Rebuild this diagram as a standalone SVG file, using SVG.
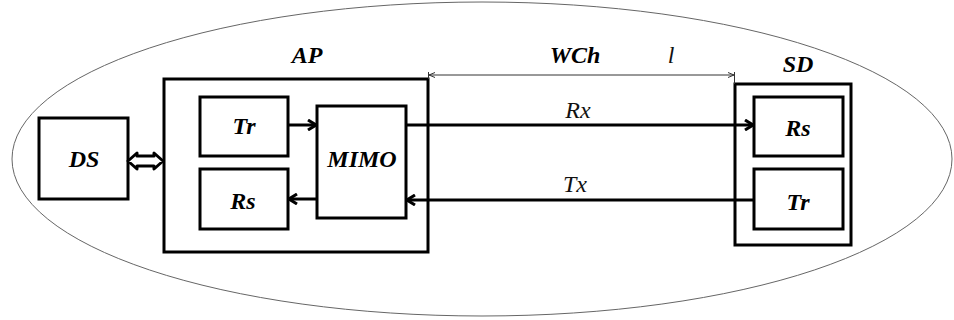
<svg xmlns="http://www.w3.org/2000/svg" width="954" height="320" viewBox="0 0 954 320">
<style>
.box{fill:#fff;stroke:#000;stroke-width:3}
.lbl{font-family:'Liberation Serif','Times New Roman',Times,serif;font-weight:700;font-style:italic;font-size:24px;text-anchor:middle;fill:#000}
.it{font-family:'Liberation Serif','Times New Roman',Times,serif;font-style:italic;font-size:24px;text-anchor:middle;fill:#111}
.ln{stroke:#000;stroke-width:3;fill:none}
.thin{stroke:#333;stroke-width:1;fill:none}
</style>
<defs>
<marker id="ah" viewBox="0 0 10 12" refX="9" refY="6" markerWidth="10" markerHeight="12" markerUnits="userSpaceOnUse" orient="auto">
<path d="M1,1 L9,6 L1,11" fill="none" stroke="#000" stroke-width="3"/>
</marker>
<marker id="dh" viewBox="0 0 6 6" refX="6" refY="3" markerWidth="6" markerHeight="6" markerUnits="userSpaceOnUse" orient="auto-start-reverse">
<path d="M0,0.5 L6,3 L0,5.5" fill="none" stroke="#333" stroke-width="1"/>
</marker>
</defs>
<ellipse cx="482" cy="159" rx="470" ry="157" fill="none" stroke="#666" stroke-width="1"/>
<g id="DS"><rect class="box" x="39" y="118" width="89" height="81"/><text class="lbl" x="84" y="167">DS</text></g>
<g id="AP"><rect class="box" x="164" y="79" width="264" height="173"/><text class="lbl" x="307" y="63">AP</text></g>
<g id="AP-Tr"><rect class="box" x="200" y="97" width="88" height="59"/><text class="lbl" x="244" y="134">Tr</text></g>
<g id="AP-Rs"><rect class="box" x="200" y="169" width="88" height="60"/><text class="lbl" x="243" y="209">Rs</text></g>
<g id="MIMO"><rect class="box" x="317" y="106" width="89" height="112"/><text class="lbl" x="362" y="167">MIMO</text></g>
<g id="SD"><rect class="box" x="735" y="84" width="116" height="161"/><text class="lbl" x="798" y="72">SD</text></g>
<g id="SD-Rs"><rect class="box" x="754" y="97" width="89" height="59"/><text class="lbl" x="798" y="136">Rs</text></g>
<g id="SD-Tr"><rect class="box" x="754" y="169" width="89" height="60"/><text class="lbl" x="798" y="210">Tr</text></g>
<g id="WCh"><text class="lbl" x="575" y="63">WCh</text><text class="it" x="671" y="63">l</text></g>
<g id="connectors">
<path d="M128,161 L137,153 L137,156 L154,156 L154,153 L163,161 L154,169 L154,166 L137,166 L137,169 Z" fill="#fff" stroke="#000" stroke-width="3" stroke-linejoin="round"/>
<line class="ln" x1="288" y1="125" x2="316" y2="125" marker-end="url(#ah)"/>
<line class="ln" x1="317" y1="199" x2="289" y2="199" marker-end="url(#ah)"/>
<line class="ln" x1="406" y1="125" x2="753" y2="125" marker-end="url(#ah)"/>
<line class="ln" x1="754" y1="200" x2="407" y2="200" marker-end="url(#ah)"/>
<line class="thin" x1="429" y1="75" x2="734" y2="75" marker-start="url(#dh)" marker-end="url(#dh)"/>
<line class="thin" x1="428.5" y1="72" x2="428.5" y2="79"/>
<line class="thin" x1="734.5" y1="72" x2="734.5" y2="84"/>
<text class="it" x="578" y="118">Rx</text>
<text class="it" x="575" y="192">Tx</text>
</g>
</svg>
